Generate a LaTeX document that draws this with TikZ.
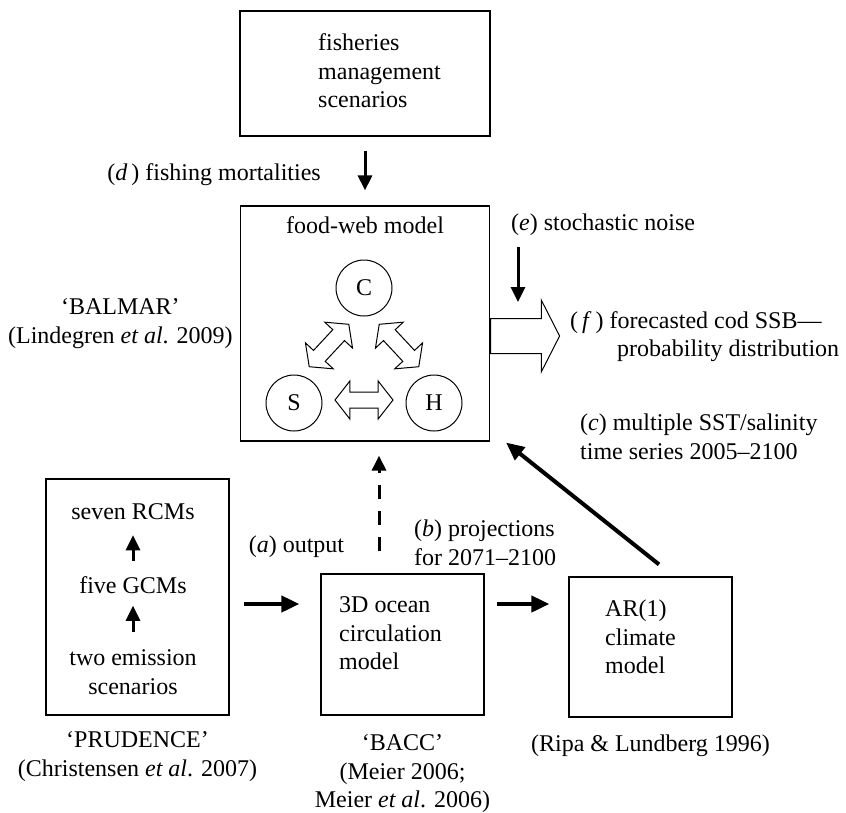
\documentclass[tikz,border=0pt]{standalone}
\usepackage{fontspec}
\setmainfont{Liberation Serif}
\usetikzlibrary{positioning,arrows.meta,shapes.arrows}

\begin{document}
\begin{tikzpicture}[x=1pt, y=-1pt,
font=\fontsize{24}{28.5}\selectfont,
modelbox/.style={rectangle, draw, line width=1.2pt, inner sep=0pt},
popnode/.style={circle, draw, line width=1pt, minimum size=56pt, inner sep=0pt},
txt/.style={inner sep=0pt, align=center},
thinarrow/.style={-{Triangle[length=15pt,width=14pt]}, line width=3pt},
thickarrow/.style={-{Triangle[length=18pt,width=16pt]}, line width=4pt},
linkarrow/.style={double arrow, draw, line width=1pt, inner sep=0pt, text height=15pt, text depth=0pt, minimum height=58pt, double arrow head extend=11pt, double arrow tip angle=104},
outarrow/.style={single arrow, draw, line width=1pt, inner sep=0pt, text height=34pt, text depth=0pt, minimum height=69pt, single arrow head extend=18.5pt, single arrow tip angle=126},
]
\useasboundingbox (0,0) rectangle (846,812);

%Nodes
\node[modelbox, minimum width=250pt, minimum height=125pt] (mgmt) at (365,73.5) {};
\node[txt, align=left, anchor=west] (mgmttext) at (318,71) {fisheries\\management\\scenarios};
\node[txt, anchor=east] (fishing) at (321,175) {(\textit{d}\,) fishing mortalities};
\node[modelbox, minimum width=249pt, minimum height=235pt] (web) at (365,323.5) {};
\node[txt] (webtitle) at (365,225) {food-web model};
\node[popnode] (C) at (364,288) {C};
\node[popnode] (S) at (294,403) {S};
\node[popnode] (H) at (434,403) {H};
\node[txt, left=7pt of web] (balmar) {‘BALMAR’\\(Lindegren \textit{et al}. 2009)};
\node[txt, anchor=west] (noise) at (511,225) {(\textit{e}) stochastic noise};
\node[txt, align=left, anchor=west] (ssb) at (570,336.5) {(\,\textit{f}\,) forecasted cod SSB\textemdash\\\hspace*{47pt}probability distribution};
\node[txt, align=left, anchor=west] (sst) at (580,437) {(\textit{c}) multiple SST/salinity\\time series 2005\textendash 2100};

\node[modelbox, minimum width=183pt, minimum height=236pt] (rcm) at (137.5,597) {};
\node[txt] (seven) at (133,512) {seven RCMs};
\node[txt] (five) at (133,585) {five GCMs};
\node[txt] (emis) at (133,672) {two emission\\scenarios};
\node[txt, below=16pt of rcm] (prudence) {‘PRUDENCE’\\(Christensen \textit{et al}. 2007)};

\node[modelbox, minimum width=163pt, minimum height=141pt] (ocean) at (402.5,644.5) {};
\node[txt, align=left, anchor=west] (oceantext) at (339,633.5) {3D ocean\\circulation\\model};
\node[txt, below=19pt of ocean] (bacc) {‘BACC’\\(Meier 2006;\\Meier \textit{et al}. 2006)};

\node[modelbox, minimum width=163pt, minimum height=140pt] (ar) at (650.5,647) {};
\node[txt, align=left, anchor=west] (artext) at (605,637) {AR(1)\\climate\\model};
\node[txt, below=17pt of ar] (ripa) {(Ripa \& Lundberg 1996)};

\node[txt] (output) at (296.5,547) {(\textit{a}) output};
\node[txt, align=left, anchor=west] (proj) at (414,543) {(\textit{b}) projections\\for 2071\textendash 2100};

%Block arrows
\path (S) -- (C) node[linkarrow, midway, rotate=47] (sc) {};
\path (C) -- (H) node[linkarrow, midway, rotate=-47] (ch) {};
\path (S) -- (H) node[linkarrow, midway, yshift=3pt] (sh) {};
\node[outarrow, anchor=tail] (fore) at ([yshift=-12.5pt]web.east) {};

%Lines
\coordinate (noisefoot) at (518,247);
\coordinate (noisetip) at (518,302);
\draw[thinarrow, shorten <=14pt, shorten >=15pt] (mgmt) -- (web);
\draw[thinarrow] (noisefoot) -- (noisetip);
\draw[thinarrow, shorten <=15pt, shorten >=15pt] (five) -- (seven);
\draw[thinarrow, shorten <=17pt, shorten >=12pt] (emis) -- (five);
\draw[thickarrow] ([xshift=14pt,yshift=-7pt]rcm.east) -- ([xshift=-21pt,yshift=40.5pt]ocean.west);
\draw[thickarrow] ([xshift=12pt,yshift=40.5pt]ocean.east) -- ([xshift=-19pt,yshift=43pt]ar.west);
\draw[thinarrow, dash pattern=on 14pt off 12pt] ([xshift=-23.5pt,yshift=22pt]ocean.north) -- ([xshift=14pt,yshift=-14pt]web.south);
\draw[thickarrow] ([xshift=8.5pt,yshift=12pt]ar.north) -- ([xshift=16pt,yshift=-1pt]web.south east);
\end{tikzpicture}
\end{document}
